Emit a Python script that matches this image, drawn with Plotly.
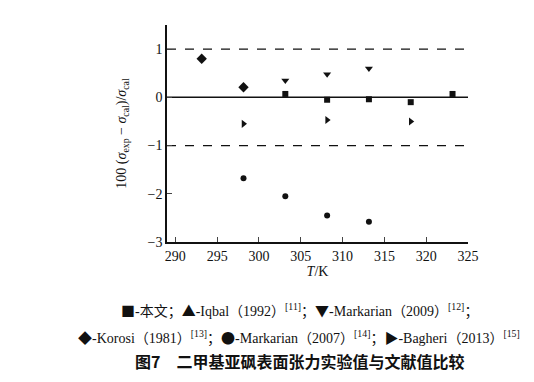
import plotly.graph_objects as go

# Data (T/K, 100*(σexp-σcal)/σcal)
this_T = [303.15, 308.15, 313.15, 318.15, 323.15]
this_v = [0.07, -0.05, -0.04, -0.10, 0.07]
iqbal_T = [298.15]
iqbal_v = [0.22]
mark09_T = [303.15, 308.15, 313.15]
mark09_v = [0.35, 0.48, 0.60]
korosi_T = [293.15, 298.15]
korosi_v = [0.80, 0.21]
mark07_T = [298.15, 303.15, 308.15, 313.15]
mark07_v = [-1.68, -2.05, -2.45, -2.58]
bagheri_T = [298.15, 308.15, 318.15]
bagheri_v = [-0.55, -0.47, -0.50]

x_range = [289, 325]
y_range = [-3, 1.5]
x_ticks = [290, 295, 300, 305, 310, 315, 320, 325]
y_ticks = [-3, -2, -1, 0, 1, 1.5]
y_ticktext = ["\u22123", "\u22122", "\u22121", "0", "1", ""]
ref_levels = [1, 0, -1]

SERIF = "Liberation Serif, Times New Roman, serif"
CJK = "Noto Sans CJK SC"

# page offset compensation (body margin)
OFF = 8
L, T, PW, PH = 167 - OFF, 25 - OFF, 301, 217
R = 534 - L - PW
B = 382 - T - PH

fig = go.Figure()

for lv in ref_levels:
    fig.add_trace(go.Scatter(x=x_range, y=[lv, lv], mode="lines",
                             line=dict(color="#111", width=1.5 if lv == 0 else 1.3,
                                       dash="solid" if lv == 0 else "dash"),
                             hoverinfo="skip", showlegend=False))

def pts(x, y, sym, size):
    fig.add_trace(go.Scatter(x=x, y=y, mode="markers",
                             marker=dict(symbol=sym, size=size, color="#111"),
                             showlegend=False))

pts(iqbal_T, iqbal_v, "triangle-up", 5)
pts(korosi_T, korosi_v, "diamond", 8)
pts(this_T, this_v, "square", 6)
pts(mark09_T, mark09_v, "triangle-down", 7)
pts(mark07_T, mark07_v, "circle", 6)
pts(bagheri_T, bagheri_v, "triangle-right", 7)

fig.update_layout(
    width=534, height=382,
    margin=dict(l=L, r=R, t=T, b=B),
    paper_bgcolor="white", plot_bgcolor="white",
    font=dict(family=SERIF, size=14, color="#111"),
    xaxis=dict(range=x_range, tickvals=x_ticks, ticks="inside", ticklen=5,
               showline=True, linecolor="#111", linewidth=1.5, showgrid=False,
               zeroline=False, tickfont=dict(size=14, family=SERIF),
               title=dict(text="<i>T</i>/K", font=dict(size=14, family=SERIF), standoff=0)),
    yaxis=dict(range=y_range, tickvals=y_ticks, ticktext=y_ticktext,
               ticks="inside", ticklen=5,
               showline=True, linecolor="#111", linewidth=1.5, showgrid=False,
               zeroline=False, tickfont=dict(size=14, family=SERIF),
               title=dict(text="100 (<i>σ</i><sub>exp</sub> \u2212 <i>σ</i><sub>cal</sub>)/<i>σ</i><sub>cal</sub>",
                          font=dict(size=14, family=SERIF), standoff=18)),
)

def sym(s):
    return '<span style="font-family:Noto Sans CJK SC">' + s + '</span>'

captions = [
    (sym("■") + "-本文；" + sym("▲") + "-Iqbal（1992）<sup>[11]</sup>；" + sym("▼") + "-Markarian（2009）<sup>[12]</sup>；", 310, 14, SERIF + ", " + CJK),
    (sym("◆") + "-Korosi（1981）<sup>[13]</sup>；" + sym("●") + "-Markarian（2007）<sup>[14]</sup>；" + sym("▶") + "-Bagheri（2013）<sup>[15]</sup>", 337, 14, SERIF + ", " + CJK),
    ("<b>图7　二甲基亚砜表面张力实验值与文献值比较</b>", 361, 16, CJK),
]
for text, ypx, size, fam in captions:
    fig.add_annotation(text=text, xref="paper", yref="paper",
                       x=(299 - OFF - L) / PW,
                       y=(382 - B - (ypx - OFF)) / PH,
                       xanchor="center", yanchor="middle", showarrow=False,
                       font=dict(size=size, family=fam, color="#111"))

fig.write_html("out.html")
